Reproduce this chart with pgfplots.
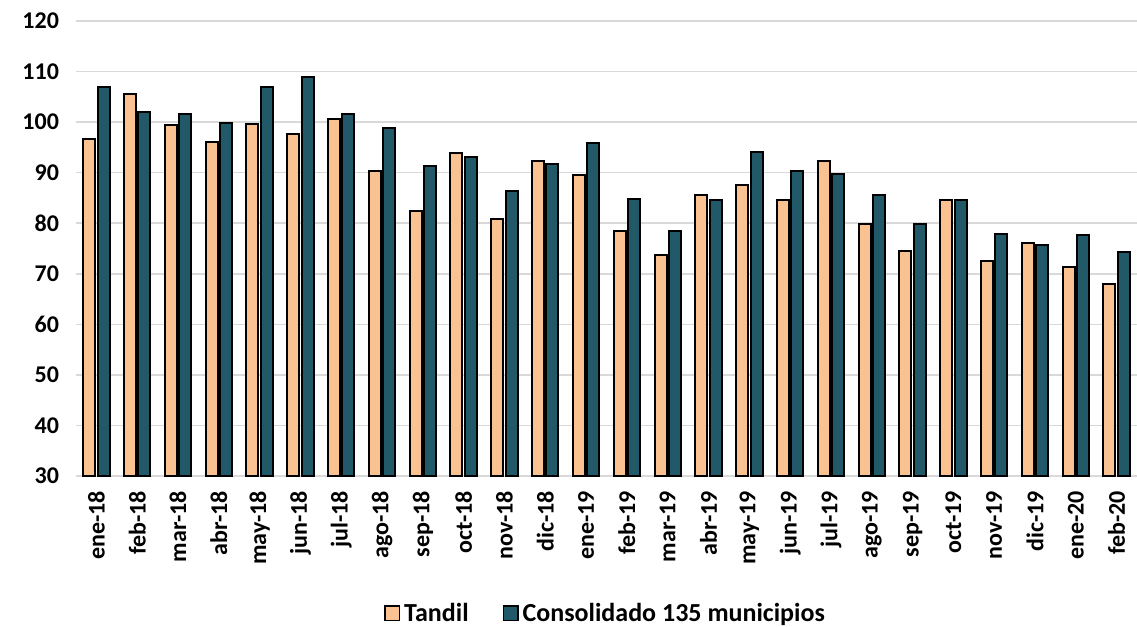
\documentclass[border=0pt]{standalone}
\usepackage{pgfplots}
\pgfplotsset{compat=1.18}
\usepackage{fontspec}
\setmainfont{Carlito}
\definecolor{tandil}{HTML}{FAC191}
\definecolor{consol}{HTML}{215968}
\definecolor{gridc}{HTML}{D9D9D9}
\begin{document}
\begin{tikzpicture}
\useasboundingbox (-38pt,-75.5pt) rectangle (530.5pt,238pt);
\begin{axis}[
  scale only axis,
  width=530.5pt, height=227.5pt,
  ybar=1.2pt, bar width=6pt,
  ymin=30, ymax=120, ytick={30,40,...,120},
  xmin=-0.5, xmax=25.5,
  xtick={0,...,25},
  xticklabels={ene-18,feb-18,mar-18,abr-18,may-18,jun-18,jul-18,ago-18,sep-18,oct-18,nov-18,dic-18,ene-19,feb-19,mar-19,abr-19,may-19,jun-19,jul-19,ago-19,sep-19,oct-19,nov-19,dic-19,ene-20,feb-20},
  x tick label style={rotate=90, anchor=east, font=\fontsize{12}{14}\selectfont\bfseries},
  xticklabel shift=4pt,
  y tick label style={font=\fontsize{12}{14}\selectfont\bfseries},
  yticklabel shift=5pt,
  /pgf/number format/assume math mode=true,
  major tick length=0pt,
  axis x line*=bottom, axis y line*=left,
  x axis line style={draw=gridc, line width=0.8pt, -},
  y axis line style={draw=none},
  ymajorgrids, grid style={draw=gridc, line width=0.8pt},
  legend columns=2,
  legend style={at={(0.5,-0.302)}, anchor=center, draw=none,
    font=\fontsize{13}{15}\selectfont\bfseries,
    /tikz/every even column/.append style={column sep=15pt},
    /tikz/every odd column/.append style={column sep=0pt}},
  legend image code/.code={\draw[#1, line width=0.8pt] (0pt,-3.6pt) rectangle (7.2pt,3.6pt);},
]
\addplot[fill=tandil, draw=black, line width=1pt] coordinates {
(0,96.6) (1,105.5) (2,99.4) (3,96.1) (4,99.6) (5,97.6) (6,100.7) (7,90.3)
(8,82.4) (9,93.8) (10,80.9) (11,92.3) (12,89.5) (13,78.4) (14,73.8) (15,85.5)
(16,87.5) (17,84.5) (18,92.3) (19,79.9) (20,74.6) (21,84.5) (22,72.5) (23,76.1)
(24,71.3) (25,68.0)};
\addplot[fill=consol, draw=black, line width=1pt] coordinates {
(0,107.0) (1,102.0) (2,101.7) (3,99.9) (4,107.0) (5,108.9) (6,101.7) (7,98.9)
(8,91.4) (9,93.1) (10,86.3) (11,91.8) (12,95.9) (13,84.7) (14,78.4) (15,84.5)
(16,94.1) (17,90.4) (18,89.8) (19,85.5) (20,79.9) (21,84.5) (22,77.9) (23,75.6)
(24,77.7) (25,74.3)};
\legend{Tandil, Consolidado 135 municipios}
\end{axis}
\end{tikzpicture}
\end{document}
